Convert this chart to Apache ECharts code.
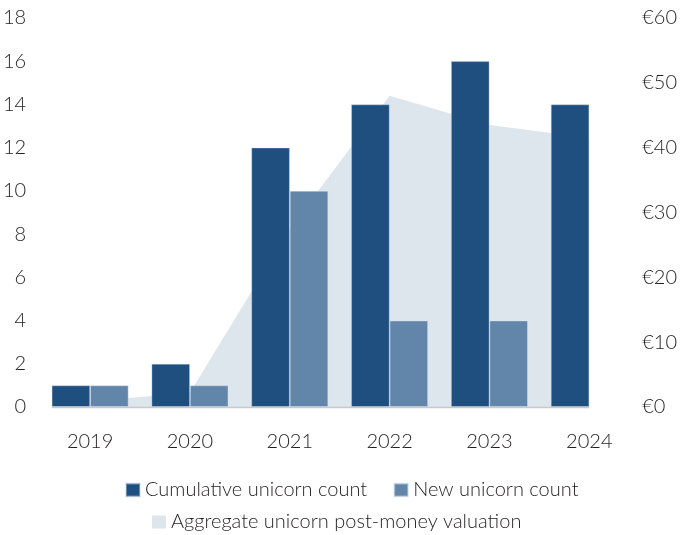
<!DOCTYPE html>
<html>
<head>
<meta charset="utf-8">
<script src="https://cdn.jsdelivr.net/npm/echarts@6/dist/echarts.min.js"></script>
<style>
  html, body { margin: 0; padding: 0; background: #ffffff; overflow: hidden; }
  #chart { width: 680px; height: 535px; }
</style>
</head>
<body>
<div id="chart"></div>
<script>
// Unicorn counts per year (left axis) and aggregate valuation in € bn (right axis)
const years = ['2019', '2020', '2021', '2022', '2023', '2024'];
const cumulativeCount = [1, 2, 12, 14, 16, 14];
const newCount = [1, 1, 10, 4, 4, null];
const valuation = [0.9, 2.2, 27.5, 48, 43.5, 41.5];

const countTicks = { min: 0, max: 18, interval: 2 };
const valuationTicks = { min: 0, max: 60, interval: 10 };

const FONT = 'Lato';
const TEXT = '#231f20';
const C_CUM = '#1f4f7f';
const C_NEW = '#6286a9';
const C_AREA = '#dde5ed';
const GAP = 0.23;

const chart = echarts.init(document.getElementById('chart'), null, { renderer: 'canvas' });

const labelStyle = { color: TEXT, fontFamily: FONT, fontSize: 20, fontWeight: 300 };

chart.setOption({
  animation: false,
  backgroundColor: '#ffffff',
  textStyle: { fontFamily: FONT },
  grid: { left: 38, right: 34, top: 18, bottom: 128, containLabel: false },
  legend: [
    {
      data: ['Cumulative unicorn count', 'New unicorn count'],
      left: 120, top: 475,
      icon: 'rect', itemWidth: 14, itemHeight: 13, itemGap: 26,
      textStyle: labelStyle
    },
    {
      data: ['Aggregate unicorn post-money valuation'],
      left: 147, top: 507,
      icon: 'rect', itemWidth: 14, itemHeight: 13,
      textStyle: labelStyle
    }
  ],
  xAxis: {
    type: 'category',
    data: years,
    axisLine: { show: false },
    axisTick: { show: false },
    axisLabel: Object.assign({ margin: 25 }, labelStyle)
  },
  yAxis: [
    {
      type: 'value',
      min: countTicks.min, max: countTicks.max, interval: countTicks.interval,
      splitLine: { show: false },
      axisLine: { show: false },
      axisTick: { show: false },
      axisLabel: Object.assign({ margin: 14 }, labelStyle)
    },
    {
      type: 'value',
      min: valuationTicks.min, max: valuationTicks.max, interval: valuationTicks.interval,
      position: 'right',
      splitLine: { show: false },
      axisLine: { show: false },
      axisTick: { show: false },
      axisLabel: Object.assign({ margin: 3, formatter: '€{value}' }, labelStyle)
    }
  ],
  series: [
    {
      name: 'Aggregate unicorn post-money valuation',
      type: 'line',
      yAxisIndex: 1,
      data: valuation,
      symbol: 'none',
      z: 1,
      itemStyle: { color: C_AREA },
      lineStyle: { width: 0, color: C_AREA },
      areaStyle: { color: C_AREA, opacity: 1 }
    },
    {
      name: 'Cumulative unicorn count',
      type: 'bar',
      data: cumulativeCount,
      barGap: '0%',
      barCategoryGap: (GAP * 100) + '%',
      z: 2,
      itemStyle: { color: C_CUM, borderColor: 'rgba(200,215,230,0.45)', borderWidth: 0.8 }
    },
    {
      name: 'New unicorn count',
      type: 'bar',
      data: newCount,
      z: 2,
      itemStyle: { color: C_NEW, borderColor: 'rgba(220,230,240,0.5)', borderWidth: 0.8 }
    }
  ]
});

// Baseline spanning from the first bar's left edge to the last bar's right edge
function drawBaseline() {
  const c0 = chart.convertToPixel({ xAxisIndex: 0 }, years[0]);
  const cN = chart.convertToPixel({ xAxisIndex: 0 }, years[years.length - 1]);
  const band = (cN - c0) / (years.length - 1);
  const y0 = chart.convertToPixel({ yAxisIndex: 0 }, 0);
  const x1 = c0 - band * (1 - GAP) / 2;
  const x2 = cN;
  chart.setOption({
    graphic: [{
      type: 'line',
      z: 10,
      shape: { x1: x1, y1: y0 + 0.5, x2: x2, y2: y0 + 0.5 },
      style: { stroke: '#c9c9c9', lineWidth: 1.5 }
    }]
  });
}
drawBaseline();
</script>
</body>
</html>
